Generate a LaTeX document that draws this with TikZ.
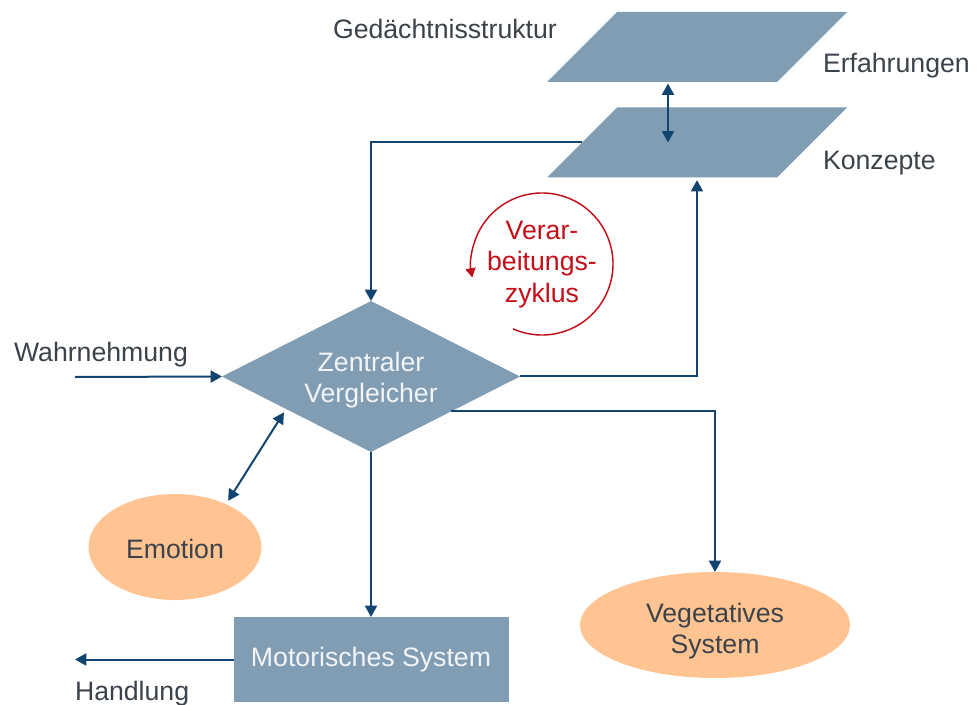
\documentclass[tikz,border=0pt]{standalone}
\usepackage{fontspec}
\setmainfont{Liberation Sans}
\usetikzlibrary{shapes.geometric,arrows.meta,calc}

\definecolor{slate}{RGB}{128,157,180}
\definecolor{peach}{RGB}{255,196,146}
\definecolor{linec}{RGB}{18,68,112}
\definecolor{txt}{RGB}{60,66,74}
\definecolor{cyclered}{RGB}{195,15,25}
\definecolor{lighttxt}{RGB}{242,245,248}

\begin{document}
\begin{tikzpicture}[x=0.75pt,y=-0.75pt,
  every node/.append style={font=\fontsize{20}{23.5}\selectfont, text=txt},
  % bounding box of one memory layer; the slanted plane is filled separately
  memory/.style={rectangle, draw=none, minimum width=225pt, minimum height=52.5pt,
    inner sep=0pt, outer sep=0pt},
  comparator/.style={diamond, aspect=2, fill=slate, draw=none, text=lighttxt,
    minimum width=223.5pt, minimum height=113.25pt, inner sep=0pt, outer sep=0pt, align=center},
  system/.style={rectangle, fill=slate, draw=none, text=lighttxt,
    minimum width=206.25pt, minimum height=63.75pt, inner sep=0pt, outer sep=0pt},
  response/.style={ellipse, fill=peach, draw=none, inner sep=0pt, outer sep=0pt, align=center},
  label/.style={inner sep=0pt, outer sep=0pt},
  flow/.style={draw=linec, line width=1.5pt, -{Triangle[length=8.5pt,width=9pt]}},
  twoway/.style={draw=linec, line width=1.5pt,
    {Triangle[length=8.5pt,width=9pt]}-{Triangle[length=8.5pt,width=9pt]}},
]
\useasboundingbox (0,0) rectangle (977,705);

% memory layers (planes slanted by 45 degrees)
\node[memory] (erf) at (697,47) {};
\node[memory] (konz) at (697,142.5) {};
\foreach \plane in {erf,konz}{
  \fill[slate] (\plane.south west) -- ($(\plane.south east)+(-70,0)$)
    -- (\plane.north east) -- ($(\plane.north west)+(70,0)$) -- cycle;
}
\node[label, anchor=base west] (gedlabel) at (333,39) {Gedächtnisstruktur};
\node[label, anchor=base west] (erflabel) at (823,73) {Erfahrungen};
\node[label, anchor=base west] (konzlabel) at (823,170) {Konzepte};

% central comparator and the systems
\node[comparator] (diam) at (371,376.5) {\rule{0pt}{20pt}Zentraler\\Vergleicher};
\node[system] (mot) at (371,659.5) {Motorisches System};
\node[response, minimum width=129.75pt, minimum height=79.5pt] (emo) at (175,547) {\rule{0pt}{17pt}Emotion};
\node[response, minimum width=202.5pt, minimum height=79.5pt] (veg) at (715,625) {\rule{0pt}{24pt}Vegetatives\\System};

% inputs and outputs
\node[label, anchor=base west] (wahr) at (14,362) {Wahrnehmung};
\node[label, anchor=base west] (hand) at (75,700) {Handlung};
\coordinate (wstart) at (75,377);
\coordinate (hend) at (75,659.5);

% processing cycle
\coordinate (cyc) at (542,264);
\node[label, text=cyclered, align=center] (cyctext) at (542,264.5) {Verar-\\beitungs-\\zyklus};
\draw[cyclered, line width=1.1pt, -{Triangle[length=7pt,width=7.5pt]}]
  (cyc) ++(114:71) arc[start angle=114, end angle=-191, radius=71];

% connectors
\draw[twoway] ($(erf.south)+(-29,1.5)$) -- ($(konz.center)+(-29,0)$);
\draw[flow] ($(konz.west)+(35,0)$) -| (diam.north);
\draw[flow, shorten >=2pt] (diam.east) -| (konz.south);
\draw[flow] (wstart) -- (diam.west);
\draw[flow] ($(diam.east)!0.46!(diam.south)$) -| (veg.north);
\draw[flow] (diam.south) -- (mot.north);
\draw[flow] (mot.west) -- (hend);
\draw[twoway, shorten <=3pt, shorten >=3pt] (emo.40) -- ($(diam.west)!0.43!(diam.south)$);
\end{tikzpicture}
\end{document}
